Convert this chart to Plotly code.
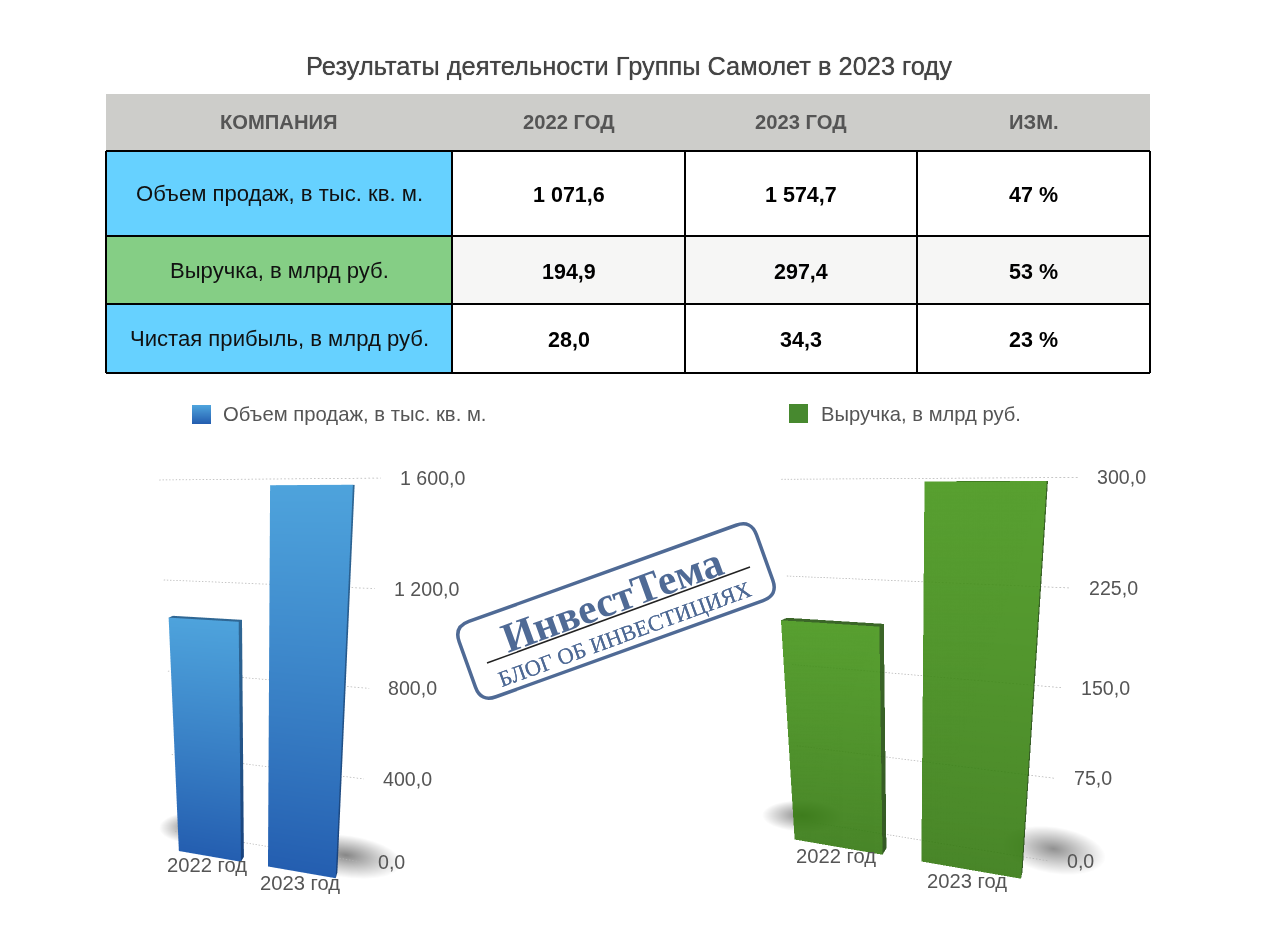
import math
import plotly.graph_objects as go

PAGE_MARGIN = 8
W, H = 1264, 945

TITLE = "Результаты деятельности Группы Самолет в 2023 году"
HEADERS = ["КОМПАНИЯ", "2022 ГОД", "2023 ГОД", "ИЗМ."]
ROW_NAMES = ["Объем продаж, в тыс. кв. м.", "Выручка, в млрд руб.", "Чистая прибыль, в млрд руб."]
COL_2022 = ["1 071,6", "194,9", "28,0"]
COL_2023 = ["1 574,7", "297,4", "34,3"]
COL_CHANGE = ["47 %", "53 %", "23 %"]

YEARS = ["2022 год", "2023 год"]
VOLUME = [1071.6, 1574.7]
REVENUE = [194.9, 297.4]
VOLUME_TICKS = [0, 400, 800, 1200, 1600]
VOLUME_TICK_TEXT = ["0,0", "400,0", "800,0", "1 200,0", "1 600,0"]
REVENUE_TICKS = [0, 75, 150, 225, 300]
REVENUE_TICK_TEXT = ["0,0", "75,0", "150,0", "225,0", "300,0"]
LEGEND_NAMES = ["Объем продаж, в тыс. кв. м.", "Выручка, в млрд руб."]

FONT = "Liberation Sans"
GREY = "#555555"
CATEGORY_POS = [-0.02, 1.0]


def px(x):
    return (x - PAGE_MARGIN) / W


def py(y):
    return 1 - (y - PAGE_MARGIN) / H


fig = go.Figure()
shapes, annos = [], []


def rect(x0, y0, x1, y1, fill, line=None, lw=0):
    shapes.append(dict(type="rect", xref="paper", yref="paper", x0=px(x0), x1=px(x1), y0=py(y1), y1=py(y0),
                       fillcolor=fill, line=dict(color=line or fill, width=lw), layer="below"))


def text(x, y, s, size, color, bold=False, anchor="center", family=FONT, angle=0, shadow=None):
    font = dict(family=family, size=size, color=color)
    if shadow:
        font["shadow"] = shadow
    annos.append(dict(xref="paper", yref="paper", x=px(x), y=py(y), text=f"<b>{s}</b>" if bold else s,
                      showarrow=False, xanchor=anchor, yanchor="middle", textangle=angle, font=font))


# ---------- title and table ----------
text(628.5, 66, TITLE, 25.4, "#444444", shadow="0 0 0.7px #444444")
COLS = [106, 452, 685, 917, 1150]
ROWS = [151, 236, 304, 373]
rect(COLS[0], 94, COLS[-1], 150, "#CDCDCA")
HEAD_Y = 122
for i, h in enumerate(HEADERS):
    text((COLS[i] + COLS[i + 1]) / 2, HEAD_Y, h, 20.2, GREY, bold=True)
NAME_FILL = ["#66D1FF", "#85CE85", "#66D1FF"]
ROW_FILL = ["#FFFFFF", "#F6F6F5", "#FFFFFF"]
for r in range(3):
    y0, y1 = ROWS[r], ROWS[r + 1]
    rect(COLS[0], y0, COLS[-1], y1, ROW_FILL[r])
    rect(COLS[0], y0, COLS[1], y1, NAME_FILL[r])
    mid = (y0 + y1) / 2
    text((COLS[0] + COLS[1]) / 2, mid, ROW_NAMES[r], 22.1, "#111111")
    for c, col in enumerate([COL_2022, COL_2023, COL_CHANGE]):
        text((COLS[c + 1] + COLS[c + 2]) / 2, mid + 1.5, col[r], 21.5, "#000000", bold=True)
for x in COLS:
    shapes.append(dict(type="line", xref="paper", yref="paper", x0=px(x), x1=px(x), y0=py(ROWS[0]), y1=py(ROWS[-1]),
                       line=dict(color="#000000", width=2)))
for y in ROWS:
    shapes.append(dict(type="line", xref="paper", yref="paper", x0=px(COLS[0]), x1=px(COLS[-1]), y0=py(y), y1=py(y),
                       line=dict(color="#000000", width=2)))


# ---------- legends ----------
def mix(a, b, t):
    return tuple(a[i] + (b[i] - a[i]) * t for i in range(3))


def rgb(c):
    return "rgb(%d,%d,%d)" % tuple(round(v) for v in c)


BLUE_TOP, BLUE_BOT = (78, 163, 220), (36, 94, 176)
GREEN_TOP, GREEN_BOT = (69, 149, 25), (52, 120, 16)

N = 19
for i in range(N):
    rect(192, 405 + i, 211, 406 + i, rgb(mix(BLUE_TOP, BLUE_BOT, i / (N - 1))))
rect(789, 404, 808, 423, "#47892F")
text(221, 414, LEGEND_NAMES[0], 20.3, GREY, anchor="left")
text(819, 414, LEGEND_NAMES[1], 20.2, GREY, anchor="left")


# ---------- 3-D bars ----------
def add_face(m, pts, cols):
    n = len(m["x"])
    for p, c in zip(pts, cols):
        m["x"].append(p[0]); m["y"].append(p[1]); m["z"].append(p[2]); m["c"].append(rgb(c))
    m["i"] += [n, n]; m["j"] += [n + 1, n + 2]; m["k"] += [n + 2, n + 3]


def bar_mesh(cat, val, width, y0, y1, top, bot, side, side_mix):
    m = dict(x=[], y=[], z=[], i=[], j=[], k=[], c=[])
    a, b = cat - width / 2, cat + width / 2
    dark_t, dark_b = mix(top, side, side_mix), mix(bot, side, side_mix)
    add_face(m, [(a, y0, 0), (b, y0, 0), (b, y0, val), (a, y0, val)], [bot, bot, top, top])
    add_face(m, [(b, y0, 0), (b, y1, 0), (b, y1, val), (b, y0, val)], [dark_b, dark_b, dark_t, dark_t])
    add_face(m, [(a, y0, val), (b, y0, val), (b, y1, val), (a, y1, val)], [dark_t] * 4)
    return m


def shadow_mesh(cx, cy, rx, ry, z, grey):
    m = dict(x=[cx], y=[cy], z=[z], i=[], j=[], k=[], c=[rgb((grey, grey, grey))])
    n = 28
    for t in range(n):
        a = 2 * math.pi * t / n
        m["x"].append(cx + rx * math.cos(a)); m["y"].append(cy + ry * math.sin(a)); m["z"].append(z)
        m["c"].append("rgb(255,255,255)")
    for t in range(n):
        m["i"].append(0); m["j"].append(1 + t); m["k"].append(1 + (t + 1) % n)
    return m


def add_mesh(m, scene, opacity=1.0):
    fig.add_trace(go.Mesh3d(x=m["x"], y=m["y"], z=m["z"], i=m["i"], j=m["j"], k=m["k"], vertexcolor=m["c"],
                            scene=scene, hoverinfo="skip", showscale=False, opacity=opacity,
                            lighting=dict(ambient=1, diffuse=0, specular=0, fresnel=0, roughness=1)))


def dotted_x(xl, xr, step, on):
    """Grid line x positions as short on-segments, separated by gaps."""
    xs = []
    x = xl
    while x < xr:
        xs += [x, min(x + on, xr), None]
        x += step
    return xs


def chart(scene, values, ticks, tick_text, top, bot, side, side_mix, depth, x_unit, z_aspect, domain_x, domain_y, zmax,
          y_wall, xl, xr, tick_shift, shadows, label_dx, label_dy, opacity, dot):
    bw = 0.72
    y_front, y_back = -0.1, -0.1 + depth
    zlow = -zmax * 0.01
    for s in shadows:
        add_mesh(shadow_mesh(s[0], s[1], s[2], s[3], zlow * 0.5, s[4]), scene)
    xs = dotted_x(xl, xr, dot[0], dot[1])
    for t in ticks:
        fig.add_trace(go.Scatter3d(x=xs, y=[y_wall if v is not None else None for v in xs],
                                   z=[t if v is not None else None for v in xs], mode="lines", scene=scene,
                                   connectgaps=False, hoverinfo="skip", showlegend=False,
                                   line=dict(color="#b4b4b4", width=1.5)))
    for p, v in zip(CATEGORY_POS, values):
        add_mesh(bar_mesh(p, v, bw, y_front, y_back, top, bot, side, side_mix), scene, opacity)
    notes = []
    for t, s in zip(ticks, tick_text):
        notes.append(dict(x=xr, y=y_wall, z=t, text=s, showarrow=False, xanchor="left", yanchor="middle",
                          xshift=tick_shift, font=dict(family=FONT, size=19.6, color=GREY)))
    for i, s in enumerate(YEARS):
        notes.append(dict(x=CATEGORY_POS[i], y=y_front, z=0, text=s, showarrow=False, xanchor="center", yanchor="top",
                          xshift=label_dx[i], yshift=label_dy[i],
                          font=dict(family=FONT, size=20.2, color=GREY)))
    axis = dict(visible=False, showgrid=False, zeroline=False, showspikes=False)
    d = 1.5
    cfg = dict(
        domain=dict(x=[px(domain_x[0]), px(domain_x[1])], y=[py(domain_y[1]), py(domain_y[0])]),
        bgcolor="rgba(0,0,0,0)",
        xaxis=dict(range=[-1.0, 2.0], **axis), yaxis=dict(range=[-1.0, 1.0], **axis),
        zaxis=dict(range=[zlow, zmax * 1.01], **axis),
        aspectmode="manual", aspectratio=dict(x=3 * x_unit, y=2 * x_unit, z=z_aspect),
        camera=dict(eye=dict(x=0.276 * d, y=-0.914 * d, z=0.297 * d), up=dict(x=0, y=0, z=1), center=dict(x=0, y=0, z=0),
                    projection=dict(type="perspective")),
        annotations=notes,
    )
    fig.update_layout({scene: cfg})


chart("scene", VOLUME, VOLUME_TICKS, VOLUME_TICK_TEXT, BLUE_TOP, BLUE_BOT, (10, 30, 60), 0.45, 0.1, 0.25, 0.99,
      (73, 443), (434, 940), 1600, 0.27, -0.59, 1.55, 17,
      [(-0.45, 0.45, 0.4, 0.35, 125), (1.39, 0.38, 0.6, 0.42, 135)], (-2, -1), (4, 2), 1.0, (0.035, 0.015))
chart("scene2", REVENUE, REVENUE_TICKS, REVENUE_TICK_TEXT, GREEN_TOP, GREEN_BOT, (15, 40, 10), 0.6, 0.09, 0.358, 0.97,
      (702, 1112), (429, 935), 300, 0.175, -0.46, 1.53, 16,
      [(-0.5, 0.275, 0.35, 0.25, 135), (1.55, 0.37, 0.38, 0.33, 145)], (-2, -3), (4, 2), 0.9, (0.024, 0.011))

# ---------- stamp ----------
STAMP = "#4F6A95"
cx, cy, sw, sh, ang, rad = 616, 611, 316, 80, -19.8, 16
ca, sa = math.cos(math.radians(ang)), math.sin(math.radians(ang))


def rot(u, v):
    x, y = cx + u * ca - v * sa, cy + u * sa + v * ca
    return f"{px(x):.5f},{py(y):.5f}"


hw, hh = sw / 2, sh / 2
path = (f"M {rot(-hw + rad, -hh)} L {rot(hw - rad, -hh)} Q {rot(hw, -hh)} {rot(hw, -hh + rad)} "
        f"L {rot(hw, hh - rad)} Q {rot(hw, hh)} {rot(hw - rad, hh)} L {rot(-hw + rad, hh)} "
        f"Q {rot(-hw, hh)} {rot(-hw, hh - rad)} L {rot(-hw, -hh + rad)} Q {rot(-hw, -hh)} {rot(-hw + rad, -hh)} Z")
shapes.append(dict(type="path", xref="paper", yref="paper", path=path, line=dict(color=STAMP, width=3.5)))
shapes.append(dict(type="line", xref="paper", yref="paper", x0=px(487), y0=py(663), x1=px(750), y1=py(567),
                   line=dict(color="#222222", width=1.5)))
text(612, 600, "ИнвестТема", 42, STAMP, bold=True, family="Liberation Serif", angle=-20.1)
text(624, 634, "БЛОГ ОБ ИНВЕСТИЦИЯХ", 22.5, STAMP, family="Liberation Serif", angle=-20.1, shadow="0 0 0.6px #4F6A95")

fig.update_layout(width=W, height=H, margin=dict(l=0, r=0, t=0, b=0), paper_bgcolor="white", showlegend=False,
                  shapes=shapes, annotations=annos, hovermode=False)
fig.write_html("out.html", config=dict(displayModeBar=False),
               post_script="document.documentElement.style.overflow='hidden';")
